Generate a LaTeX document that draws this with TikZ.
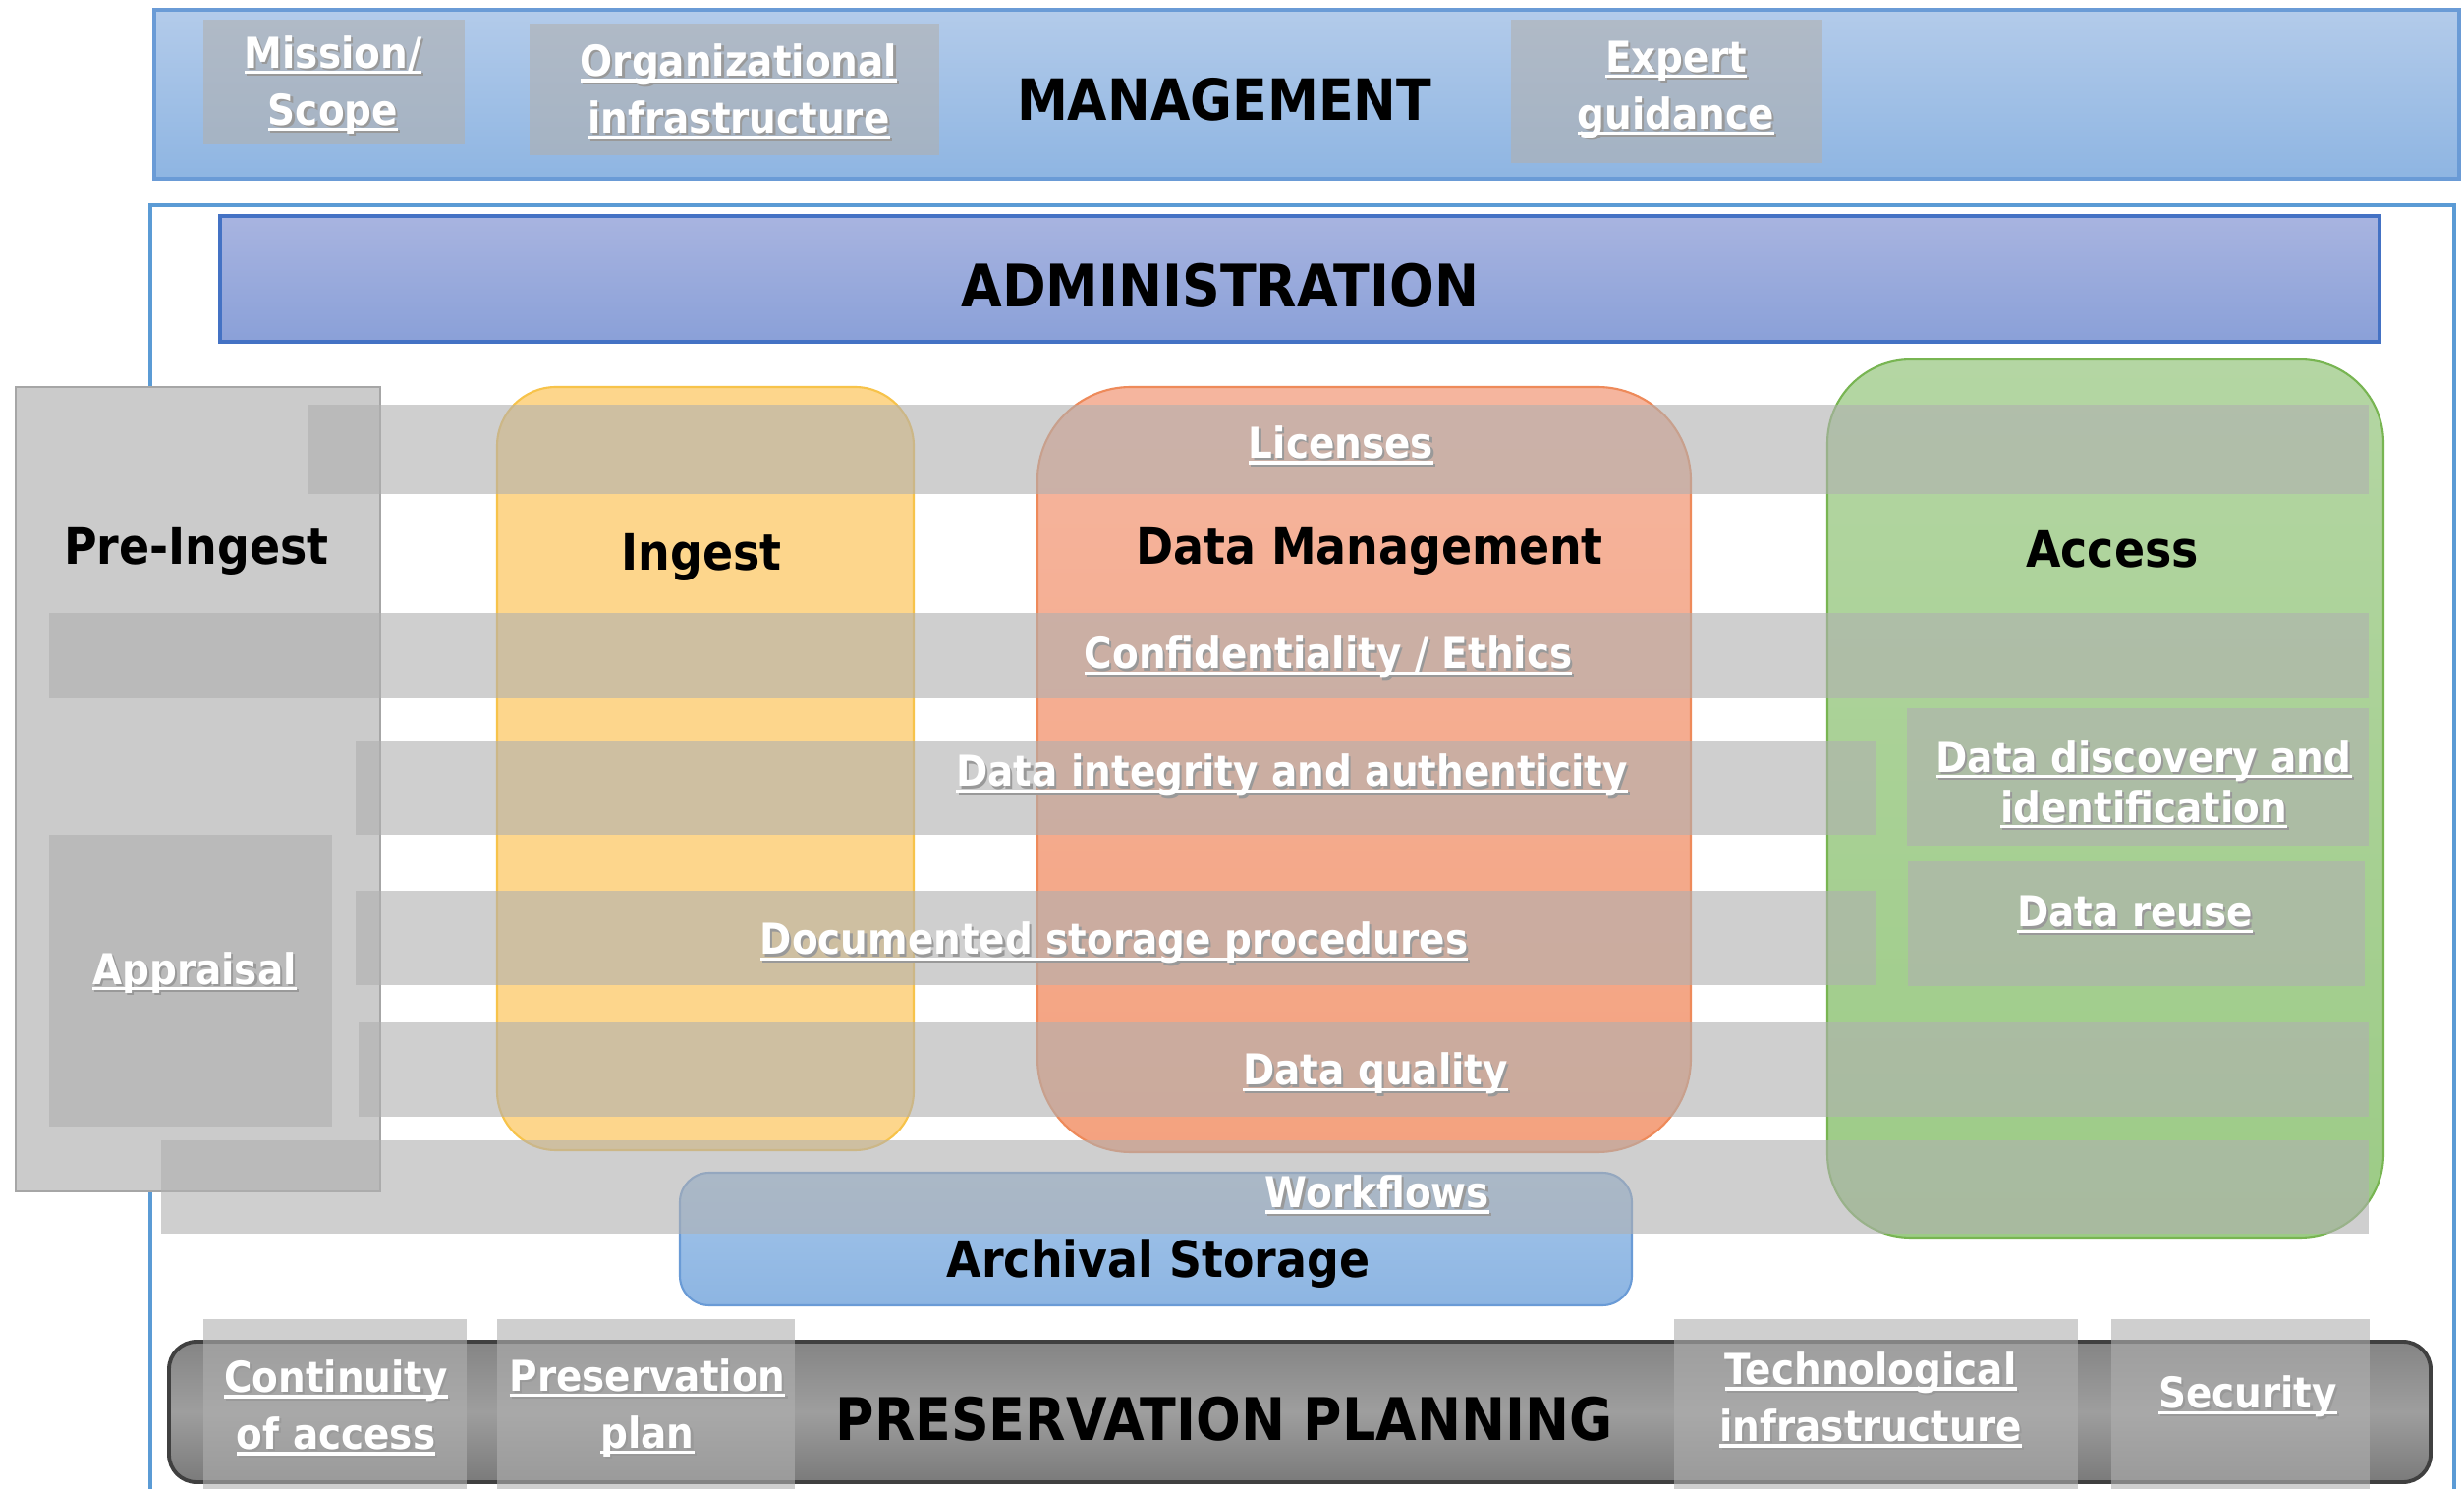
\documentclass[tikz,border=0pt]{standalone}
\usepackage{fontspec}
\newfontfamily\dv{DejaVu Sans}[FakeStretch=0.9]
\definecolor{mgtop}{HTML}{B3CBEA}
\definecolor{mgbot}{HTML}{8EB5E2}
\definecolor{mgline}{HTML}{6A9BD6}
\definecolor{frameline}{HTML}{5B9BD5}
\definecolor{adtop}{HTML}{A8B4E0}
\definecolor{adbot}{HTML}{8AA0D8}
\definecolor{adline}{HTML}{4472C4}
\definecolor{prefill}{HTML}{CBCBCB}
\definecolor{preline}{HTML}{A6A6A6}
\definecolor{ingfill}{HTML}{FDD68C}
\definecolor{ingline}{HTML}{F7C34A}
\definecolor{dmtop}{HTML}{F5B59E}
\definecolor{dmbot}{HTML}{F4A27F}
\definecolor{dmline}{HTML}{EE8A5A}
\definecolor{actop}{HTML}{B4D6A3}
\definecolor{acbot}{HTML}{9CCB86}
\definecolor{acline}{HTML}{78B552}
\definecolor{artop}{HTML}{A3C5EA}
\definecolor{arbot}{HTML}{8DB5E2}
\definecolor{ppline}{HTML}{404040}
\definecolor{gband}{HTML}{B0B0B0}
\newcommand{\ulbox}[1]{\setbox0\hbox{#1}\rlap{\rule[-0.14em]{\wd0}{0.075em}}\box0}
\newcommand{\wl}[1]{\mbox{\rlap{\kern0.05em\raisebox{-0.05em}{\color{black!40}\ulbox{#1}}}\color{white}\ulbox{#1}}}
\tikzset{
  sz/.style 2 args={minimum width=#1*0.01cm, minimum height=#2*0.01cm, inner sep=0pt, outer sep=0pt},
  gb/.style={fill=gband, fill opacity=0.6, draw=none},
  lab/.style={font=\dv\bfseries\fontsize{12.3}{16.5}\selectfont, align=center, inner sep=0pt, yshift=-1.2pt},
  head/.style={font=\dv\bfseries\fontsize{14.5}{17}\selectfont, text=black, inner sep=0pt, yshift=-1.2pt},
  bighead/.style={font=\dv\bfseries\fontsize{17}{20}\selectfont, text=black, inner sep=0pt, yshift=-0.8pt},
}
\begin{document}
\begin{tikzpicture}[x=0.01cm,y=-0.01cm]
\useasboundingbox (0,0) rectangle (2508,1516);
\clip (0,0) rectangle (2508,1516);
\fill[white] (0,0) rectangle (2508,1516);
% MANAGEMENT
\node[sz={2346}{172}, draw=mgline, line width=0.9pt, top color=mgtop, bottom color=mgbot] (mgmt) at (1330,96) {};
\node[sz={266}{127}, gb] (missionbox) at (340,83.5) {};
\node[sz={417}{134}, gb] (orgbox) at (747.5,91) {};
\node[sz={317}{146}, gb] (expertbox) at (1696.5,93) {};
% ADMINISTRATION frame
\node[sz={2345}{1340}, draw=frameline, line width=1.1pt] (adframe) at (1325.5,879) {};
\node[sz={2198}{128}, draw=adline, line width=0.9pt, top color=adtop, bottom color=adbot] (admin) at (1323,284) {};
% Pre-ingest
\node[sz={371}{819}, fill=prefill, draw=preline, line width=0.6pt] (preingest) at (201.5,803.5) {};
% functional boxes
\node[sz={424}{777}, rounded corners=0.6cm, fill=ingfill, draw=ingline, line width=0.6pt] (ingest) at (718,782.5) {};
\node[sz={665}{779}, rounded corners=0.95cm, top color=dmtop, bottom color=dmbot, draw=dmline, line width=0.6pt] (dm) at (1388.5,783.5) {};
\node[sz={566}{894}, rounded corners=0.85cm, top color=actop, bottom color=acbot, draw=acline, line width=0.6pt] (access) at (2143,813) {};
\node[sz={969}{135}, rounded corners=0.3cm, top color=artop, bottom color=arbot, draw=mgline, line width=0.6pt] (archival) at (1176.5,1261.5) {};
% Preservation planning band
\node[sz={2302}{143}, rounded corners=0.28cm, top color=black!48, bottom color=black!52, middle color=black!38, draw=ppline, line width=1.1pt] (pp) at (1323,1437.5) {};
% grey bands
\node[sz={2098}{91}, gb] (licband) at (1362,457.5) {};
\node[sz={2361}{87}, gb] (confband) at (1230.5,667.5) {};
\node[sz={1547}{96}, gb] (intband) at (1135.5,802) {};
\node[sz={1547}{96}, gb] (docband) at (1135.5,955) {};
\node[sz={2046}{96}, gb] (qualband) at (1388,1089) {};
\node[sz={2247}{95}, gb] (wfband) at (1287.5,1208.5) {};
\node[sz={288}{297}, gb] (appbox) at (194,998.5) {};
\node[sz={470}{140}, gb] (discbox) at (2176,791) {};
\node[sz={465}{127}, gb] (reusebox) at (2174.5,940.5) {};
\node[sz={268}{187}, gb] (contbox) at (341,1436.5) {};
\node[sz={303}{187}, gb] (planbox) at (657.5,1436.5) {};
\node[sz={411}{187}, gb] (techbox) at (1909.5,1436.5) {};
\node[sz={263}{187}, gb] (secbox) at (2280.5,1436.5) {};
% headings
\node[bighead, font=\dv\bfseries\fontsize{16.5}{20}\selectfont] (mgmttxt) at (1246,99) {MANAGEMENT};
\node[bighead] (admintxt) at (1242,288) {ADMINISTRATION};
\node[bighead] (pptxt) at (1246,1442) {PRESERVATION PLANNING};
\node[head] (pretxt) at (200,557) {Pre-Ingest};
\node[head] (ingtxt) at (714,563) {Ingest};
\node[head] (dmtxt) at (1394,557) {Data Management};
\node[head] (actxt) at (2150,555) {Access};
\node[head] (artxt) at (1179,1282) {Archival Storage};
% white labels
\node[lab] (missiontxt) at (339,83) {\wl{Mission/}\\\wl{Scope}};
\node[lab] (orgtxt) at (752,90) {\wl{Organizational}\\\wl{infrastructure}};
\node[lab] (experttxt) at (1706,88) {\wl{Expert}\\\wl{guidance}};
\node[lab] (lictxt) at (1365,450) {\wl{Licenses}};
\node[lab] (conftxt) at (1352,666) {\wl{Confidentiality / Ethics}};
\node[lab] (inttxt) at (1315,786) {\wl{Data integrity and authenticity}};
\node[lab] (doctxt) at (1134,957) {\wl{Documented storage procedures}};
\node[lab] (qualtxt) at (1400,1090) {\wl{Data quality}};
\node[lab] (wftxt) at (1402,1213) {\wl{Workflows}};
\node[lab] (apptxt) at (198,987) {\wl{Appraisal}};
\node[lab, font=\dv\bfseries\fontsize{12.3}{14.5}\selectfont] (disctxt) at (2182,795) {\wl{Data discovery and}\\\wl{identification}};
\node[lab] (reusetxt) at (2173,928) {\wl{Data reuse}};
\node[lab] (conttxt) at (342,1430) {\wl{Continuity}\\\wl{of access}};
\node[lab] (plantxt) at (659,1430) {\wl{Preservation}\\\wl{plan}};
\node[lab] (techtxt) at (1904,1422) {\wl{Technological}\\\wl{infrastructure}};
\node[lab] (sectxt) at (2288,1419) {\wl{Security}};
\end{tikzpicture}
\end{document}
